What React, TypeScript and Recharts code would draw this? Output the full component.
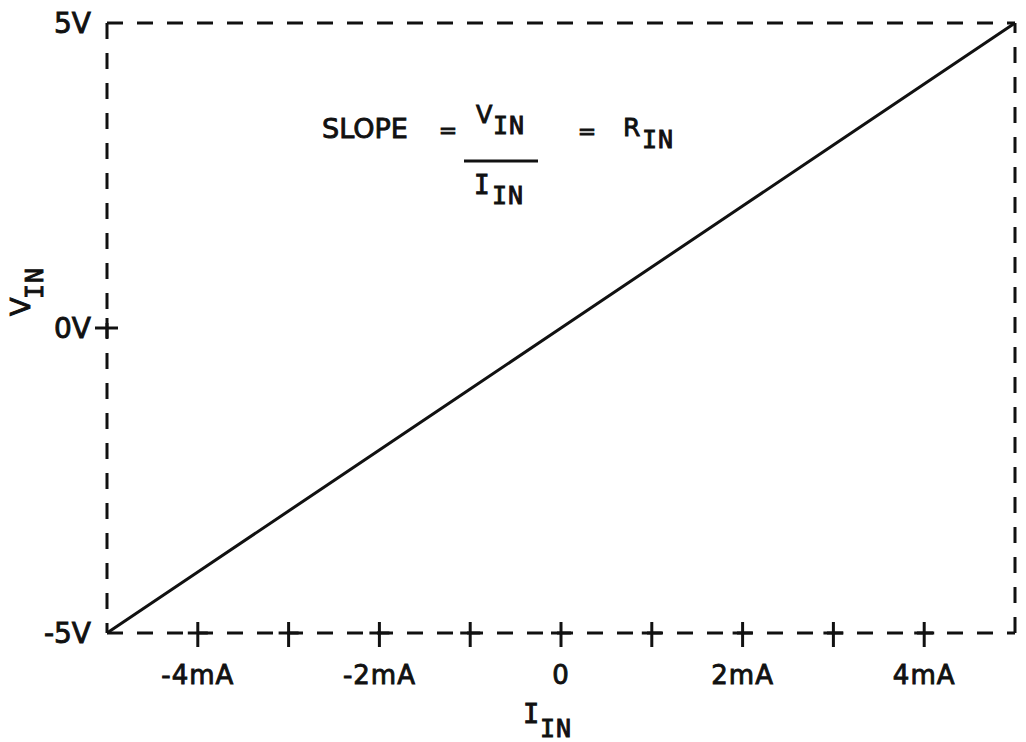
import React from 'react'
import { Customized, Line, LineChart, ReferenceLine, XAxis, YAxis } from 'recharts'

// input current in mA and the matching input voltage in V
const currentMa = [-5, -4, -3, -2, -1, 0, 1, 2, 3, 4, 5]
const voltageV = [-5, -4, -3, -2, -1, 0, 1, 2, 3, 4, 5]

const xTicks = [-4, -3, -2, -1, 0, 1, 2, 3, 4]
const xTickLabels: { [k: number]: string } = { [-4]: '-4mA', [-2]: '-2mA', 0: '0', 2: '2mA', 4: '4mA' }
const yTicks = [-5, 0, 5]
const yTickLabels: { [k: number]: string } = { [-5]: '-5V', 0: '0V', 5: '5V' }

const data = currentMa.map((i, k) => ({ i, v: voltageV[k] }))

const FONT = '"DejaVu Sans", sans-serif'
const MONO = '"DejaVu Sans Mono", monospace'
const INK = '#111'
const DASH = '16 14'

const XTick = (props: any) => {
  const { x, y, payload } = props
  const label = xTickLabels[payload.value]
  return (
    <g>
      <line x1={x} x2={x} y1={y - 11} y2={y + 14} stroke={INK} strokeWidth={3} />
      <line x1={x - 10} x2={x + 10} y1={y} y2={y} stroke={INK} strokeWidth={3} />
      {label !== undefined && (
        <text x={x} y={y + 51} textAnchor="middle" fontFamily={FONT} fontSize={26} fill={INK}
          stroke={INK} strokeWidth={0.9} letterSpacing={1}>
          {label}
        </text>
      )}
    </g>
  )
}

const YTick = (props: any) => {
  const { x, y, payload } = props
  return (
    <g>
      {payload.value === 0 && (
        <>
          <line x1={x - 12} x2={x + 11} y1={y} y2={y} stroke={INK} strokeWidth={3} />
          <line x1={x} x2={x} y1={y - 10} y2={y + 10} stroke={INK} strokeWidth={3} />
        </>
      )}
      <text x={x - 16} y={y + 10} textAnchor="end" fontFamily={FONT} fontSize={28} fill={INK}
        stroke={INK} strokeWidth={0.9}>
        {yTickLabels[payload.value]}
      </text>
    </g>
  )
}

// axis titles and the slope note
const Notes = () => {
  const t = { fontFamily: FONT, fill: INK, stroke: INK, strokeWidth: 0.9 }
  const m = { fontFamily: MONO, fill: INK, stroke: INK, strokeWidth: 0.9 }
  return (
    <g>
      <g transform="translate(30,316) rotate(-90)">
        <text x={0} y={0} fontSize={27} {...t}>V</text>
        <text x={17} y={13} fontSize={25} letterSpacing={1} {...m}>IN</text>
      </g>
      <text x={523} y={723} fontSize={27} {...m}>I</text>
      <text x={540} y={737} fontSize={25} letterSpacing={1} {...m}>IN</text>

      <text x={322} y={138} fontSize={27} {...t}>SLOPE</text>
      <text x={448} y={138} fontSize={22} textAnchor="middle" {...t}>=</text>
      <text x={476} y={123} fontSize={24} {...t}>V</text>
      <text x={493} y={134} fontSize={25} letterSpacing={1} {...m}>IN</text>
      <line x1={464} x2={538} y1={161} y2={161} stroke={INK} strokeWidth={3} />
      <text x={474} y={194} fontSize={26} {...m}>I</text>
      <text x={492} y={204} fontSize={25} letterSpacing={1} {...m}>IN</text>
      <text x={587} y={139} fontSize={22} textAnchor="middle" {...t}>=</text>
      <text x={623} y={136} fontSize={25} {...t}>R</text>
      <text x={642} y={148} fontSize={25} letterSpacing={1} {...m}>IN</text>
    </g>
  )
}

const App = () => {
  return (
    <div style={{ position: 'absolute', left: 0, top: 0, background: '#fff' }}>
      <LineChart width={1026} height={742} data={data}
        margin={{ top: 23, right: 11, bottom: 0, left: 0 }}>
        <XAxis dataKey="i" type="number" domain={[-5, 5]} ticks={xTicks} interval={0}
          height={109} tickSize={0} tickMargin={0} tickLine={false}
          axisLine={{ stroke: INK, strokeWidth: 3, strokeDasharray: DASH }}
          tick={<XTick />} />
        <YAxis dataKey="v" type="number" domain={[-5, 5]} ticks={yTicks} interval={0}
          width={107} tickSize={0} tickMargin={0} tickLine={false}
          axisLine={{ stroke: INK, strokeWidth: 3, strokeDasharray: DASH }}
          tick={<YTick />} />
        <ReferenceLine y={5} stroke={INK} strokeWidth={3} strokeDasharray={DASH} />
        <ReferenceLine x={5} stroke={INK} strokeWidth={3} strokeDasharray={DASH} />
        <Line type="linear" dataKey="v" stroke={INK} strokeWidth={3} dot={false}
          isAnimationActive={false} />
        <Customized component={Notes} />
      </LineChart>
    </div>
  )
}

export default App
